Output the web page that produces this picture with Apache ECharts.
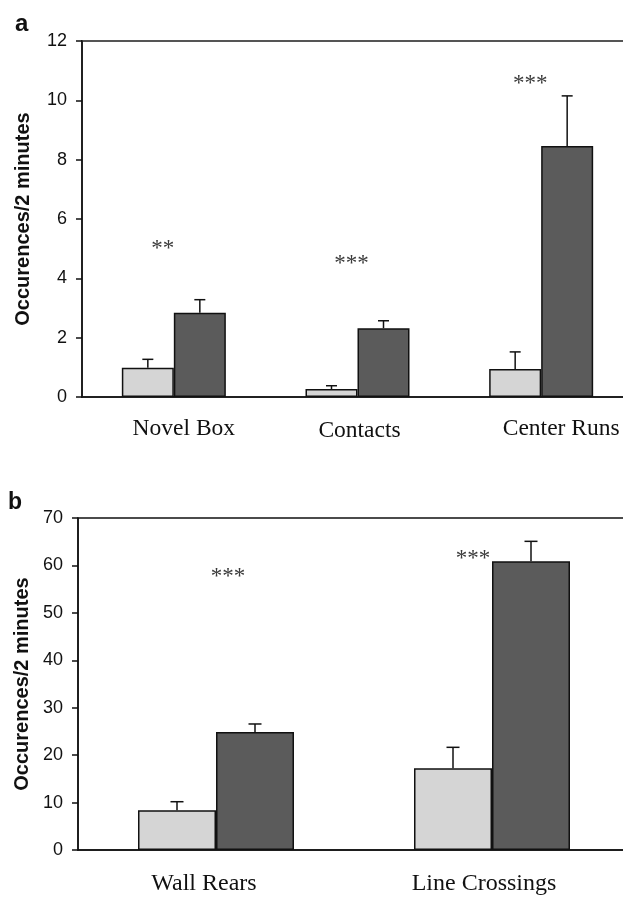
<!DOCTYPE html>
<html>
<head>
<meta charset="utf-8">
<script src="https://cdn.jsdelivr.net/npm/echarts@6/dist/echarts.min.js"></script>
<style>
  html, body { margin: 0; padding: 0; background: #fff; }
  #chart { width: 623px; height: 902px; }
</style>
</head>
<body>
<div id="chart"></div>
<script>
// panel a
const categoriesA = ['Novel Box', 'Contacts', 'Center Runs']
const controlA = [0.99, 0.27, 0.94]
const controlErrA = [0.28, 0.11, 0.58]
const treatedA = [2.84, 2.32, 8.46]
const treatedErrA = [0.44, 0.25, 1.69]
const sigA = ['**', '***', '***']
const sigHeightA = [5.13, 4.63, 10.68]
const yTicksA = [0, 2, 4, 6, 8, 10, 12]

// panel b
const categoriesB = ['Wall Rears', 'Line Crossings']
const controlB = [8.37, 17.23]
const controlErrB = [1.81, 4.42]
const treatedB = [24.88, 60.87]
const treatedErrB = [1.69, 4.21]
const sigB = ['***', '***']
const sigHeightB = [58.5, 62.2]
const yTicksB = [0, 10, 20, 30, 40, 50, 60, 70]

// small layout nudges (px) so labels sit where the original has them
const sigNudgeA = [-11, -6, -11]
const sigNudgeB = [12, -19]
const labelNudgeA = [10, 2, 20]
const labelNudgeB = [-12, -8]

const LIGHT = '#d5d5d5'
const DARK = '#5b5b5b'
const EDGE = '#111'

function catData(cats, nudges, dy) {
  return cats.map((c, i) => {
    const n = nudges[i] * 2
    return {
      value: c,
      textStyle: { padding: n >= 0 ? [dy[i], 0, 0, n] : [dy[i], -n, 0, 0] }
    }
  })
}

function errorBar(sign, barPx, capPx) {
  return function (params, api) {
    const idx = api.value(0)
    const val = api.value(1)
    const err = api.value(2)
    const base = api.coord([idx, val])
    const top = api.coord([idx, val + err])
    const x = base[0] + sign * barPx / 2
    const style = { stroke: EDGE, lineWidth: 1.5 }
    return {
      type: 'group',
      children: [
        { type: 'line', shape: { x1: x, y1: base[1], x2: x, y2: top[1] }, style: style },
        { type: 'line', shape: { x1: x - capPx / 2, y1: top[1], x2: x + capPx / 2, y2: top[1] }, style: style }
      ]
    }
  }
}

function sigMark(labels, nudges) {
  return function (params, api) {
    const i = params.dataIndex
    const p = api.coord([api.value(0), api.value(1)])
    return {
      type: 'text',
      x: p[0] + nudges[i],
      y: p[1] + 4,
      style: {
        text: labels[i],
        fill: '#3a3a3a',
        font: '23px "Liberation Serif"',
        textAlign: 'center',
        textVerticalAlign: 'middle'
      }
    }
  }
}

function yAxis(gridIndex, ticks, gap) {
  return {
    gridIndex: gridIndex,
    type: 'value',
    min: ticks[0],
    max: ticks[ticks.length - 1],
    interval: ticks[1] - ticks[0],
    name: 'Occurences/2 minutes',
    nameLocation: 'middle',
    nameGap: gap,
    nameTextStyle: { fontFamily: 'Liberation Sans', fontWeight: 'bold', fontSize: 20, color: '#111' },
    axisLine: { show: true, lineStyle: { color: EDGE, width: 1.5 } },
    axisTick: { show: true, inside: false, length: 6, lineStyle: { color: EDGE, width: 1.5 } },
    axisLabel: { margin: 15, fontFamily: 'Liberation Sans', fontSize: 18, color: '#111' },
    splitLine: { show: false }
  }
}

function xAxis(gridIndex, data, margin, size) {
  return {
    gridIndex: gridIndex,
    type: 'category',
    data: data,
    axisLine: { show: true, lineStyle: { color: EDGE, width: 1.5 } },
    axisTick: { show: false },
    axisLabel: { interval: 0, margin: margin, fontFamily: 'Liberation Serif', fontSize: size, color: '#111' }
  }
}

const chart = echarts.init(document.getElementById('chart'), null, { renderer: 'canvas' })

chart.setOption({
  animation: false,
  backgroundColor: '#fff',
  title: [
    { text: 'a', left: 10, top: 7, textStyle: { fontFamily: 'Liberation Sans', fontWeight: 'bold', fontSize: 24, color: '#111' } },
    { text: 'b', left: 3, top: 486, textStyle: { fontFamily: 'Liberation Sans', fontWeight: 'bold', fontSize: 23, color: '#111' } }
  ],
  grid: [
    { left: 82, top: 41, width: 551, height: 356, outerBoundsMode: 'none', containLabel: false, show: true, borderColor: '#555', borderWidth: 2, backgroundColor: 'transparent' },
    { left: 78, top: 518, width: 552, height: 332, outerBoundsMode: 'none', containLabel: false, show: true, borderColor: EDGE, borderWidth: 1.5, backgroundColor: 'transparent' }
  ],
  xAxis: [
    xAxis(0, catData(categoriesA, labelNudgeA, [0, 2, 0]), 20, 23.5),
    xAxis(1, catData(categoriesB, labelNudgeB, [0, 0]), 22, 24)
  ],
  yAxis: [
    yAxis(0, yTicksA, 49),
    yAxis(1, yTicksB, 45)
  ],
  series: [
    {
      type: 'bar', xAxisIndex: 0, yAxisIndex: 0, data: controlA,
      barWidth: 52, barGap: '0%',
      itemStyle: { color: LIGHT, borderColor: EDGE, borderWidth: 1.5 }
    },
    {
      type: 'bar', xAxisIndex: 0, yAxisIndex: 0, data: treatedA,
      barWidth: 52, barGap: '0%',
      itemStyle: { color: DARK, borderColor: EDGE, borderWidth: 1.5 }
    },
    {
      type: 'custom', xAxisIndex: 0, yAxisIndex: 0, z: 5,
      renderItem: errorBar(-1, 52, 11),
      data: controlA.map((v, i) => [i, v, controlErrA[i]])
    },
    {
      type: 'custom', xAxisIndex: 0, yAxisIndex: 0, z: 5,
      renderItem: errorBar(1, 52, 11),
      data: treatedA.map((v, i) => [i, v, treatedErrA[i]])
    },
    {
      type: 'custom', xAxisIndex: 0, yAxisIndex: 0, z: 6,
      renderItem: sigMark(sigA, sigNudgeA),
      data: sigHeightA.map((h, i) => [i, h])
    },
    {
      type: 'bar', xAxisIndex: 1, yAxisIndex: 1, data: controlB,
      barWidth: 78, barGap: '0%',
      itemStyle: { color: LIGHT, borderColor: EDGE, borderWidth: 1.5 }
    },
    {
      type: 'bar', xAxisIndex: 1, yAxisIndex: 1, data: treatedB,
      barWidth: 78, barGap: '0%',
      itemStyle: { color: DARK, borderColor: EDGE, borderWidth: 1.5 }
    },
    {
      type: 'custom', xAxisIndex: 1, yAxisIndex: 1, z: 5,
      renderItem: errorBar(-1, 78, 13),
      data: controlB.map((v, i) => [i, v, controlErrB[i]])
    },
    {
      type: 'custom', xAxisIndex: 1, yAxisIndex: 1, z: 5,
      renderItem: errorBar(1, 78, 13),
      data: treatedB.map((v, i) => [i, v, treatedErrB[i]])
    },
    {
      type: 'custom', xAxisIndex: 1, yAxisIndex: 1, z: 6,
      renderItem: sigMark(sigB, sigNudgeB),
      data: sigHeightB.map((h, i) => [i, h])
    }
  ]
})
</script>
</body>
</html>
